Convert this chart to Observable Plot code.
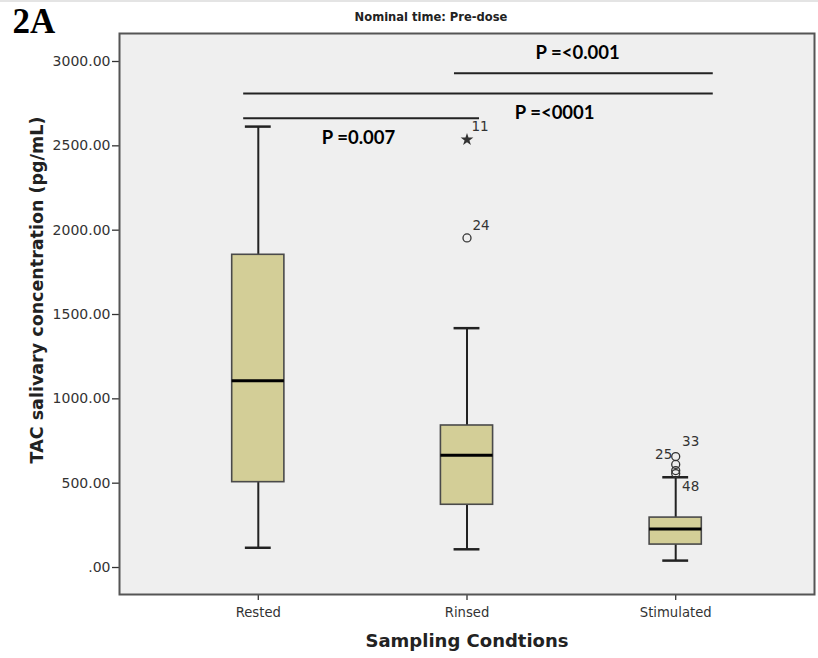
<!DOCTYPE html>
<html><head><meta charset="utf-8">
<script src="https://cdn.jsdelivr.net/npm/d3@7"></script>
<script src="https://cdn.jsdelivr.net/npm/@observablehq/plot@0.6"></script>
<style>
html,body{margin:0;padding:0;background:#fff;}
#chart{position:relative;width:818px;height:658px;overflow:hidden;}
#topline{position:absolute;left:0;top:0;width:818px;height:2px;background:#e4e4e4;}
</style></head><body>
<div id="chart"><div id="topline"></div></div>
<script>
// ---- data ----
const categories = ["Rested", "Rinsed", "Stimulated"];
const whiskerLow  = [117, 108, 41];
const q1          = [506, 372, 136];
const median      = [1108, 666, 229];
const q3          = [1854, 842, 296];
const whiskerHigh = [2614, 1419, 535];

const outlierGroup   = ["Rinsed", "Rinsed", "Stimulated", "Stimulated", "Stimulated", "Stimulated"];
const outlierValue   = [2537, 1954, 658, 611, 575, 557];
const outlierCase    = ["11", "24", "33", "25", "", "48"];
const outlierExtreme = [true, false, false, false, false, false];

const yTicks = [0, 500, 1000, 1500, 2000, 2500, 3000];

const sigText  = ["P =<0.001", "P =<0001", "P =0.007"];
const sigY     = [2930, 2811, 2663];
const sigX1    = [1.94, 0.93, 0.93];
const sigX2    = [3.18, 3.18, 2.06];
const sigLabelX = [2.53, 2.42, 1.48];
const sigLabelSide = ["above", "below", "below"];

const titleText = "Nominal time: Pre-dose";
const panelText = "2A";
const yLabel = "TAC salivary concentration (pg/mL)";
const xLabel = "Sampling Condtions";

// ---- build tables ----
const boxes = categories.map((c, i) => ({c, x: i + 1, lo: whiskerLow[i], q1: q1[i], med: median[i], q3: q3[i], hi: whiskerHigh[i]}));
const outliers = outlierValue.map((v, i) => ({x: categories.indexOf(outlierGroup[i]) + 1, v, id: outlierCase[i], extreme: outlierExtreme[i]}));
const sigs = sigText.map((t, i) => ({t, y: sigY[i], x1: sigX1[i], x2: sigX2[i], lx: sigLabelX[i], side: sigLabelSide[i]}));

// label offsets (style)
const labelOffset = {"11": [13, -13], "24": [14, -12], "33": [15, -15], "25": [-12, -10], "48": [15, 13]};

const BOX = 0.125, CAP = 0.062;
const axisFont = "DejaVu Sans";
const pFont = "Lato";

const plot = Plot.plot({
  width: 818, height: 658,
  marginLeft: 119, marginRight: 4, marginTop: 33, marginBottom: 64,
  x: {type: "linear", domain: [0.335, 3.665]},
  y: {domain: [-160, 3166]},
  style: {fontFamily: axisFont, background: "transparent", overflow: "visible"},
  marks: [
    Plot.frame({fill: "#efefef", stroke: null}),
    Plot.axisX({ticks: [1, 2, 3], tickFormat: d => categories[d - 1], tickSize: 6, tickPadding: 7, fontSize: 13.2, stroke: "#333", fill: "#333", strokeWidth: 1.3, label: null}),
    Plot.axisY({ticks: yTicks, tickFormat: d => d === 0 ? ".00" : d.toFixed(2), tickSize: 7, tickPadding: 2, fontSize: 14, stroke: "#333", fill: "#333", strokeWidth: 1.3, label: null}),
    // whiskers
    Plot.ruleX(boxes, {x: "x", y1: "lo", y2: "q1", stroke: "#222", strokeWidth: 2}),
    Plot.ruleX(boxes, {x: "x", y1: "q3", y2: "hi", stroke: "#222", strokeWidth: 2}),
    Plot.ruleY(boxes, {y: "lo", x1: d => d.x - CAP, x2: d => d.x + CAP, stroke: "#222", strokeWidth: 2.5}),
    Plot.ruleY(boxes, {y: "hi", x1: d => d.x - CAP, x2: d => d.x + CAP, stroke: "#222", strokeWidth: 2.5}),
    // boxes
    Plot.rect(boxes, {x1: d => d.x - BOX, x2: d => d.x + BOX, y1: "q1", y2: "q3", fill: "#d3ce97", stroke: "#4a4a4a", strokeWidth: 1.6}),
    Plot.ruleY(boxes, {y: "med", x1: d => d.x - BOX, x2: d => d.x + BOX, stroke: "#000", strokeWidth: 3}),
    // outliers
    Plot.dot(outliers.filter(d => !d.extreme), {x: "x", y: "v", r: 4, stroke: "#333", strokeWidth: 1.3, fill: "none"}),
    Plot.dot(outliers.filter(d => d.extreme), {x: "x", y: "v", symbol: "star", r: 4, fill: "#333", stroke: null}),
    ...outliers.filter(d => d.id).map(d => Plot.text([d], {x: "x", y: "v", text: "id", dx: labelOffset[d.id][0], dy: labelOffset[d.id][1], fontSize: 13.5, fill: "#333"})),
    // significance bars
    Plot.ruleY(sigs, {y: "y", x1: "x1", x2: "x2", stroke: "#222", strokeWidth: 2}),
    ...sigs.map(d => Plot.text([d], {x: "lx", y: "y", text: "t", dy: d.side === "above" ? -20 : 20, fontFamily: pFont, fontWeight: "bold", fontSize: 18.5, fill: "#000"})),
    // frame border
    Plot.frame({stroke: "#555", strokeWidth: 2}),
    // titles
    Plot.text([titleText], {frameAnchor: "top", dx: -36, dy: -17, lineAnchor: "middle", fontFamily: "'DejaVu Sans Condensed', 'Liberation Sans Narrow', 'Liberation Sans'", fontSize: 12.8, fontWeight: "bold", fill: "#222"}),
    Plot.text([panelText], {frameAnchor: "top-left", dx: -107, dy: -12, textAnchor: "start", lineAnchor: "middle", fontFamily: "Liberation Serif", fontSize: 35, fontWeight: "bold", fill: "#000"}),
    Plot.text([yLabel], {frameAnchor: "left", dx: -82, dy: -24, rotate: -90, textAnchor: "middle", lineAnchor: "middle", fontSize: 17.5, fontWeight: "bold", fill: "#222"}),
    Plot.text([xLabel], {frameAnchor: "bottom", dy: 47, lineAnchor: "middle", fontSize: 18, fontWeight: "bold", fill: "#222"})
  ]
});
document.getElementById("chart").appendChild(plot);
</script>
</body></html>
